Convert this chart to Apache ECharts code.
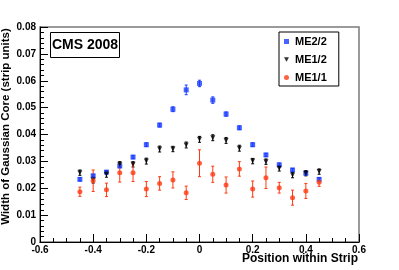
<!DOCTYPE html>
<html><head><meta charset="utf-8">
<script src="https://cdn.jsdelivr.net/npm/echarts@6/dist/echarts.min.js"></script>
<style>html,body{margin:0;padding:0;background:#fff}#c{width:399px;height:270px}</style>
</head><body><div id="c"></div>
<script>
const positions = [-0.45,-0.4,-0.35,-0.3,-0.25,-0.2,-0.15,-0.1,-0.05,0,0.05,0.1,0.15,0.2,0.25,0.3,0.35,0.4,0.45];
const me22 = [0.0233,0.0246,0.0260,0.0283,0.0316,0.0362,0.0435,0.0494,0.0566,0.0590,0.0528,0.0476,0.0425,0.0362,0.0324,0.0287,0.0268,0.0256,0.0233];
const me22Err = [0.0006,0.0006,0.0006,0.0007,0.0006,0.0007,0.0007,0.0009,0.0018,0.0012,0.0012,0.0008,0.0007,0.0007,0.0006,0.0007,0.0006,0.0006,0.0007];
const me12 = [0.0258,0.0231,0.0252,0.0289,0.0289,0.0301,0.0346,0.0346,0.0361,0.0382,0.0388,0.0378,0.0349,0.0301,0.0299,0.0274,0.0249,0.0256,0.0262];
const me12Err = [0.0010,0.0012,0.0011,0.0010,0.0010,0.0011,0.0011,0.0010,0.0011,0.0011,0.0011,0.0011,0.0011,0.0010,0.0010,0.0010,0.0010,0.0010,0.0010];
const me11 = [0.0187,0.0228,0.0194,0.0258,0.0258,0.0197,0.0218,0.0231,0.0183,0.0293,0.0252,0.0212,0.0272,0.0197,0.0239,0.0202,0.0165,0.0190,0.0222];
const me11Err = [0.0017,0.0040,0.0025,0.0035,0.0033,0.0028,0.0025,0.0030,0.0025,0.0050,0.0030,0.0030,0.0027,0.0030,0.0040,0.0020,0.0028,0.0028,0.0015];
const xTicks = [-0.6,-0.4,-0.2,0,0.2,0.4,0.6];
const yTicks = [0,0.01,0.02,0.03,0.04,0.05,0.06,0.07,0.08];
const seriesNames = ['ME2/2','ME1/2','ME1/1'];
const colors = ['#1a3cff','#000000','#ff3a12'];

const FONT = 'Liberation Sans, Arial, sans-serif';
const downTri = 'path://M0,0 L10,0 L5,9 Z';

function pts(v){ return positions.map((x,i)=>[x,v[i]]); }
function errs(v,e){ return positions.map((x,i)=>[x,v[i]-e[i],v[i]+e[i]]); }
function errSeries(v,e,color){
  return {
    type:'custom', silent:true, z:2,
    data: errs(v,e),
    renderItem:(params,api)=>{
      const lo = api.coord([api.value(0),api.value(1)]);
      const hi = api.coord([api.value(0),api.value(2)]);
      const st = {stroke:color, lineWidth:1};
      return {type:'group', children:[
        {type:'line', shape:{x1:lo[0],y1:lo[1],x2:hi[0],y2:hi[1]}, style:st},
        {type:'line', shape:{x1:lo[0]-1.5,y1:lo[1],x2:lo[0]+1.5,y2:lo[1]}, style:st},
        {type:'line', shape:{x1:hi[0]-1.5,y1:hi[1],x2:hi[0]+1.5,y2:hi[1]}, style:st}
      ]};
    }
  };
}
function fmt(v){ const r = Math.round(v*1000)/1000; return r===0?'0':String(r); }

const chart = echarts.init(document.getElementById('c'));
chart.setOption({
  animation:false,
  textStyle:{fontFamily:FONT},
  title:{
    text:'CMS 2008', left:50, top:32, padding:[6,2,6,2],
    borderColor:'#000', borderWidth:1,
    textStyle:{fontFamily:FONT, fontWeight:'bold', fontSize:14, color:'#000'}
  },
  legend:{
    orient:'vertical', left:279, top:32, padding:[4,12,3,5], itemGap:7,
    borderColor:'#000', borderWidth:1,
    itemWidth:5, itemHeight:5,
    textStyle:{fontFamily:FONT, fontWeight:'bold', fontSize:11, color:'#000', padding:[0,0,0,1]},
    data:[
      {name:seriesNames[0], icon:'rect'},
      {name:seriesNames[1], icon:downTri},
      {name:seriesNames[2], icon:'circle'}
    ]
  },
  grid:{left:40, right:40, top:27, bottom:28, containLabel:false, outerBoundsMode:'none', show:true, borderColor:'#7a7a7a', borderWidth:1.5},
  xAxis:{
    type:'value', min:-0.6, max:0.6, interval:0.2,
    axisLine:{show:true, onZero:false, lineStyle:{color:'#000', width:1}},
    axisTick:{show:true, inside:true, length:8, lineStyle:{color:'#000'}},
    minorTick:{show:true, splitNumber:4, length:4, lineStyle:{color:'#000'}},
    splitLine:{show:false},
    axisLabel:{formatter:fmt, margin:3, fontWeight:'bold', fontSize:10, color:'#000', fontFamily:FONT}
  },
  yAxis:{
    type:'value', min:0, max:0.08, interval:0.01,
    name:'Width of Gaussian Core (strip units)', nameLocation:'middle', nameGap:28, nameMoveOverlap:false,
    nameTextStyle:{fontFamily:FONT, fontWeight:'bold', fontSize:11.5, color:'#000', padding:[0,0,0,16]},
    axisLine:{show:true, onZero:false, lineStyle:{color:'#000', width:1}},
    axisTick:{show:true, inside:true, length:8, lineStyle:{color:'#000'}},
    minorTick:{show:true, splitNumber:5, length:4, lineStyle:{color:'#000'}},
    splitLine:{show:false},
    axisLabel:{formatter:fmt, margin:4, fontWeight:'bold', fontSize:10, color:'#000', fontFamily:FONT}
  },
  graphic:[{
    type:'text', right:41, top:253,
    style:{text:'Position within Strip', font:'bold 12px '+FONT, fill:'#000'}
  }],
  series:[
    errSeries(me22,me22Err,colors[0]),
    errSeries(me12,me12Err,colors[1]),
    errSeries(me11,me11Err,colors[2]),
    {name:seriesNames[0], type:'scatter', data:pts(me22), symbol:'rect', symbolSize:5, itemStyle:{color:colors[0]}, z:3},
    {name:seriesNames[1], type:'scatter', data:pts(me12), symbol:downTri, symbolSize:[5,5], itemStyle:{color:colors[1]}, z:3},
    {name:seriesNames[2], type:'scatter', data:pts(me11), symbol:'circle', symbolSize:5, itemStyle:{color:colors[2]}, z:3}
  ]
});
</script></body></html>
